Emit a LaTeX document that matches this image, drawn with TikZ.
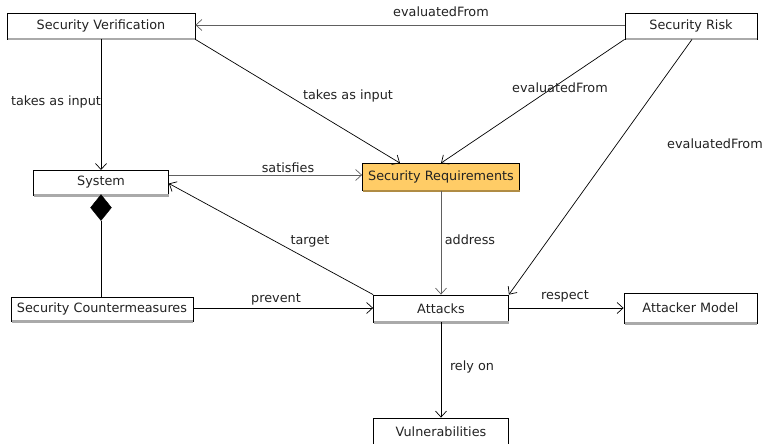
\documentclass[tikz,border=0pt]{standalone}
\usepackage{fontspec}
\setmainfont{DejaVu Sans}
\usetikzlibrary{arrows.meta,shapes.geometric}
\definecolor{txt}{HTML}{222222}
\definecolor{reqfill}{HTML}{FFCC66}
\definecolor{reqshadow}{HTML}{B08C44}
\definecolor{shadowgray}{HTML}{AAAAAA}
\definecolor{linegray}{HTML}{606060}
\tikzset{
  cls/.style={draw=black, fill=white, line width=0.8pt, inner sep=0pt, text=txt,
    font=\fontsize{12.8}{15}\selectfont},
  lbl/.style={text=txt, font=\fontsize{12.8}{15}\selectfont, inner sep=0pt},
  conn/.style={line width=0.7pt, -{Straight Barb[length=6pt,width=11pt]}},
  gconn/.style={conn, draw=linegray},
  sh/.style={draw=shadowgray, line width=2.2pt},
}
\begin{document}
\begin{tikzpicture}[x=1pt,y=-1pt]
\useasboundingbox (0,0) rectangle (766,444);
% classes
\node[cls, minimum width=188pt, minimum height=26pt] (sv) at (101,26) {Security Verification};
\node[cls, minimum width=132pt, minimum height=26pt] (sr) at (691,26) {Security Risk};
\node[cls, minimum width=135pt, minimum height=25pt] (sys) at (101,182.5) {System};
\node[cls, fill=reqfill, minimum width=157pt, minimum height=27pt] (req) at (441,177) {Security Requirements};
\node[cls, minimum width=182pt, minimum height=24pt] (scm) at (102,309) {Security Countermeasures};
\node[cls, minimum width=135pt, minimum height=27pt] (att) at (441,308.5) {Attacks};
\node[cls, minimum width=133pt, minimum height=30pt] (am) at (690.5,308) {Attacker Model};
\node[cls, minimum width=135pt, minimum height=28pt] (vul) at (441,432) {Vulnerabilities};
% shadows
\foreach \n in {sv,sr,sys,scm,att,am,vul}{
  \draw[sh] ([xshift=1pt]\n.south west) -- (\n.south east);
}
\draw[draw=reqshadow, line width=2.2pt] ([xshift=1pt]req.south west) -- (req.south east);
% helper coordinates
\coordinate (svbot) at (101,39);
\coordinate (sysin) at (101,170);
% connectors
\draw[gconn] (sr.west |- 0,25) -- (sv.east |- 0,25);
\node[lbl] at (441,12) {evaluatedFrom};
\draw[conn] (sr.south west) -- (req.north);
\node[lbl] at (560,88) {evaluatedFrom};
\draw[conn] ([xshift=1pt]sr.south) -- (att.north east);
\node[lbl] at (715,144) {evaluatedFrom};
\draw[conn] (svbot) -- (sysin);
\node[lbl] at (56,102) {takes as input};
\draw[conn] (sv.south east) -- ([xshift=-41pt]req.north);
\node[lbl] at (348,96) {takes as input};
\draw[gconn] (sys.east |- 0,175) -- (req.west |- 0,175);
\node[lbl] at (288,168) {satisfies};
\draw[conn] (att.north west) -- ([yshift=-1pt]sys.east);
\node[lbl] at (310,241) {target};
\draw[gconn] (req.south |- 0,191) -- (att.north);
\node[lbl] at (470,240) {address};
\draw[conn] (scm.east |- 0,308) -- (att.west |- 0,308);
\node[lbl] at (276,299) {prevent};
\draw[conn] (att.east |- 0,308) -- (am.west |- 0,308);
\node[lbl] at (565,296) {respect};
\draw[conn] (att.south) -- (vul.north);
\node[lbl] at (472,367) {rely on};
% composition
\node[diamond, fill=black, draw=black, inner sep=0pt, minimum width=21pt, minimum height=26pt, anchor=north] (dia) at ([yshift=1pt]sys.south) {};
\draw[line width=0.7pt] (dia.south) -- (dia.south |- scm.north);
\end{tikzpicture}
\end{document}
